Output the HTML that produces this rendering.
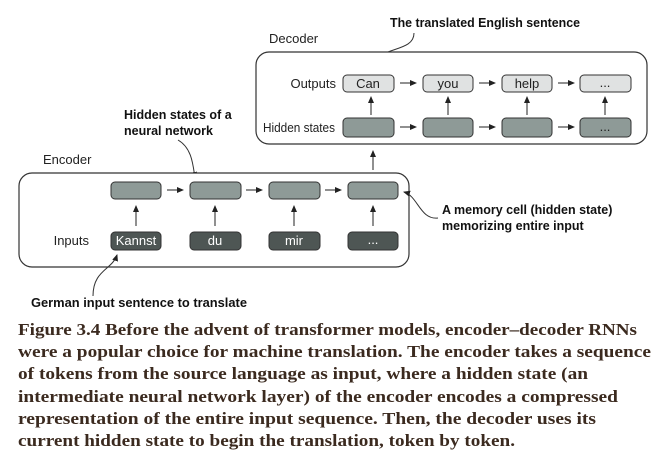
<!DOCTYPE html>
<html><head><meta charset="utf-8"><style>
html,body{margin:0;padding:0;background:#fff;width:665px;height:467px;overflow:hidden}
svg{display:block}
.s{font-family:"Liberation Sans",sans-serif;font-size:13px;fill:#222}
.b{font-family:"Liberation Sans",sans-serif;font-size:12.5px;font-weight:bold;fill:#111}
.c{font-family:"Liberation Serif",serif;font-size:17px;font-weight:bold;fill:#3b2a1f}
</style></head><body>
<svg width="665" height="467" viewBox="0 0 665 467" xmlns="http://www.w3.org/2000/svg">
<defs><marker id="a" markerWidth="8" markerHeight="8" refX="6" refY="4" orient="auto" markerUnits="userSpaceOnUse"><path d="M0,1 L7,4 L0,7z" fill="#222"/></marker></defs>
<!-- decoder -->
<text class="b" x="390" y="27" textLength="190" lengthAdjust="spacingAndGlyphs">The translated English sentence</text>
<path d="M414,33 C414,52 382,46 372,64" fill="none" stroke="#333" stroke-width="1" marker-end="url(#a)"/>
<text class="s" x="269" y="43">Decoder</text>
<rect x="256" y="52" width="391" height="92" rx="13" fill="#fff" stroke="#333" stroke-width="1.2"/>
<text class="s" x="336" y="88" text-anchor="end" font-size="12">Outputs</text>
<text class="s" x="263" y="132" font-size="12" textLength="72" lengthAdjust="spacingAndGlyphs">Hidden states</text>
<g stroke="#333" stroke-width="1">
<rect x="343" y="75" width="51" height="17" rx="4" fill="#e0e2e2"/>
<rect x="423" y="75" width="50" height="17" rx="4" fill="#e0e2e2"/>
<rect x="502" y="75" width="50" height="17" rx="4" fill="#e0e2e2"/>
<rect x="580" y="75" width="51" height="17" rx="4" fill="#e0e2e2"/>
<rect x="343" y="118" width="51" height="19" rx="4" fill="#8e9a97"/>
<rect x="423" y="118" width="50" height="19" rx="4" fill="#8e9a97"/>
<rect x="502" y="118" width="50" height="19" rx="4" fill="#8e9a97"/>
<rect x="580" y="118" width="51" height="19" rx="4" fill="#8e9a97"/>
</g>
<g class="s" font-size="12" text-anchor="middle">
<text x="368" y="88">Can</text><text x="448" y="88">you</text><text x="527" y="88">help</text><text x="605" y="87">...</text>
<text x="605" y="131">...</text>
</g>
<g stroke="#222" stroke-width="1" marker-end="url(#a)">
<line x1="400" y1="83" x2="416" y2="83"/><line x1="479" y1="83" x2="495" y2="83"/><line x1="558" y1="83" x2="574" y2="83"/>
<line x1="400" y1="127" x2="416" y2="127"/><line x1="479" y1="127" x2="495" y2="127"/><line x1="558" y1="127" x2="574" y2="127"/>
<line x1="371" y1="115" x2="371" y2="97"/><line x1="448" y1="115" x2="448" y2="97"/><line x1="527" y1="115" x2="527" y2="97"/><line x1="605" y1="115" x2="605" y2="97"/>
<line x1="373" y1="170" x2="373" y2="151"/>
</g>
<!-- encoder -->
<text class="b" x="124" y="119">Hidden states of a</text>
<text class="b" x="124" y="135">neural network</text>
<path d="M178,140 C192,148 193,165 195,178" fill="none" stroke="#333" stroke-width="1" marker-end="url(#a)"/>
<text class="s" x="43" y="164">Encoder</text>
<rect x="19" y="173" width="390" height="94" rx="13" fill="#fff" stroke="#333" stroke-width="1.2"/>
<g stroke="#333" stroke-width="1">
<rect x="111" y="182" width="50" height="17" rx="4" fill="#8e9a97"/>
<rect x="190" y="182" width="51" height="17" rx="4" fill="#8e9a97"/>
<rect x="269" y="182" width="51" height="17" rx="4" fill="#8e9a97"/>
<rect x="348" y="182" width="50" height="17" rx="4" fill="#8e9a97"/>
<rect x="111" y="232" width="50" height="18" rx="4" fill="#4e5654"/>
<rect x="190" y="232" width="51" height="18" rx="4" fill="#4e5654"/>
<rect x="269" y="232" width="51" height="18" rx="4" fill="#4e5654"/>
<rect x="348" y="232" width="50" height="18" rx="4" fill="#4e5654"/>
</g>
<text class="s" x="89" y="245" text-anchor="end" font-size="12">Inputs</text>
<g class="s" font-size="12" text-anchor="middle" style="fill:#fff">
<text x="136" y="245">Kannst</text><text x="215" y="245">du</text><text x="294" y="245">mir</text><text x="373" y="244">...</text>
</g>
<g stroke="#222" stroke-width="1" marker-end="url(#a)">
<line x1="167" y1="190" x2="183" y2="190"/><line x1="246" y1="190" x2="262" y2="190"/><line x1="325" y1="190" x2="341" y2="190"/>
<line x1="136" y1="226" x2="136" y2="206"/><line x1="215" y1="226" x2="215" y2="206"/><line x1="294" y1="226" x2="294" y2="206"/><line x1="373" y1="226" x2="373" y2="206"/>
</g>
<text class="b" x="442" y="214">A memory cell (hidden state)</text>
<text class="b" x="442" y="230">memorizing entire input</text>
<path d="M438,218 C420,220 418,196 404,192" fill="none" stroke="#333" stroke-width="1" marker-end="url(#a)"/>
<path d="M93,296 C93,270 112,270 117,255" fill="none" stroke="#333" stroke-width="1" marker-end="url(#a)"/>
<text class="b" x="31" y="307" textLength="216" lengthAdjust="spacingAndGlyphs">German input sentence to translate</text>
<!-- caption -->
<text class="c" x="18" y="335" textLength="619" lengthAdjust="spacingAndGlyphs">Figure 3.4 Before the advent of transformer models, encoder–decoder RNNs</text>
<text class="c" x="18" y="357" textLength="633" lengthAdjust="spacingAndGlyphs">were a popular choice for machine translation. The encoder takes a sequence</text>
<text class="c" x="18" y="379" textLength="570" lengthAdjust="spacingAndGlyphs">of tokens from the source language as input, where a hidden state (an</text>
<text class="c" x="18" y="402" textLength="600" lengthAdjust="spacingAndGlyphs">intermediate neural network layer) of the encoder encodes a compressed</text>
<text class="c" x="18" y="424" textLength="578" lengthAdjust="spacingAndGlyphs">representation of the entire input sequence. Then, the decoder uses its</text>
<text class="c" x="18" y="446" textLength="497" lengthAdjust="spacingAndGlyphs">current hidden state to begin the translation, token by token.</text>
</svg>
</body></html>
